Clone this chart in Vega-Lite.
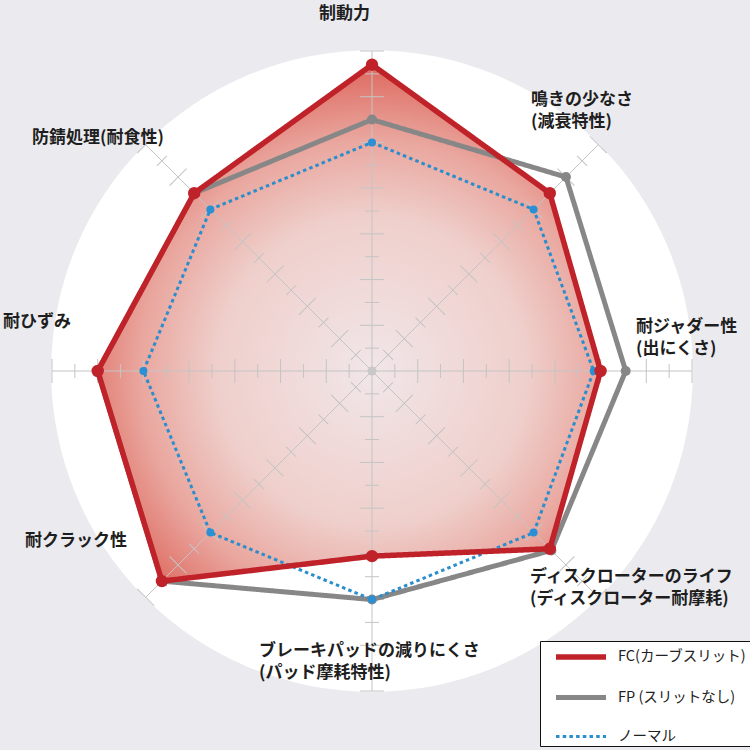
{
  "$schema": "https://vega.github.io/schema/vega-lite/v6.json",
  "width": 750,
  "height": 750,
  "autosize": {"type": "fit", "contains": "padding"},
  "padding": 0,
  "background": "#ebebef",
  "config": {
    "view": {"stroke": null},
    "font": "Noto Sans CJK JP",
    "legend": {
      "orient": "none",
      "legendX": 540,
      "legendY": 641,
      "padding": 3,
      "fillColor": "#ffffff",
      "strokeColor": "#111111",
      "symbolType": "M0,0L5,0",
      "symbolSize": 400,
      "labelFont": "Noto Sans CJK JP",
      "labelFontSize": 14.5,
      "labelColor": "#222222",
      "labelOffset": 49,
      "labelLimit": 300,
      "rowPadding": 17
    }
  },
  "datasets": {
    "scores": [
      {"series": "FP (スリットなし)", "axis": "制動力", "k": 0, "value": 5.5},
      {"series": "FP (スリットなし)", "axis": "鳴きの少なさ", "k": 1, "value": 6.0},
      {"series": "FP (スリットなし)", "axis": "耐ジャダー性", "k": 2, "value": 5.55},
      {"series": "FP (スリットなし)", "axis": "ディスクローターのライフ", "k": 3, "value": 5.55},
      {"series": "FP (スリットなし)", "axis": "ブレーキパッドの減りにくさ", "k": 4, "value": 5.0},
      {"series": "FP (スリットなし)", "axis": "耐クラック性", "k": 5, "value": 6.5},
      {"series": "FP (スリットなし)", "axis": "耐ひずみ", "k": 6, "value": 6.0},
      {"series": "FP (スリットなし)", "axis": "防錆処理", "k": 7, "value": 5.5},
      {"series": "ノーマル", "axis": "制動力", "k": 0, "value": 5.0},
      {"series": "ノーマル", "axis": "鳴きの少なさ", "k": 1, "value": 5.0},
      {"series": "ノーマル", "axis": "耐ジャダー性", "k": 2, "value": 4.85},
      {"series": "ノーマル", "axis": "ディスクローターのライフ", "k": 3, "value": 5.0},
      {"series": "ノーマル", "axis": "ブレーキパッドの減りにくさ", "k": 4, "value": 5.0},
      {"series": "ノーマル", "axis": "耐クラック性", "k": 5, "value": 5.0},
      {"series": "ノーマル", "axis": "耐ひずみ", "k": 6, "value": 5.0},
      {"series": "ノーマル", "axis": "防錆処理", "k": 7, "value": 5.0},
      {"series": "FC(カーブスリット)", "axis": "制動力", "k": 0, "value": 6.7},
      {"series": "FC(カーブスリット)", "axis": "鳴きの少なさ", "k": 1, "value": 5.5},
      {"series": "FC(カーブスリット)", "axis": "耐ジャダー性", "k": 2, "value": 5.0},
      {"series": "FC(カーブスリット)", "axis": "ディスクローターのライフ", "k": 3, "value": 5.5},
      {"series": "FC(カーブスリット)", "axis": "ブレーキパッドの減りにくさ", "k": 4, "value": 4.05},
      {"series": "FC(カーブスリット)", "axis": "耐クラック性", "k": 5, "value": 6.5},
      {"series": "FC(カーブスリット)", "axis": "耐ひずみ", "k": 6, "value": 6.0},
      {"series": "FC(カーブスリット)", "axis": "防錆処理", "k": 7, "value": 5.5}
    ],
    "axes": [
      {"axis": "制動力", "k": 0, "max": 7},
      {"axis": "鳴きの少なさ", "k": 1, "max": 7},
      {"axis": "耐ジャダー性", "k": 2, "max": 7},
      {"axis": "ディスクローターのライフ", "k": 3, "max": 7},
      {"axis": "ブレーキパッドの減りにくさ", "k": 4, "max": 7},
      {"axis": "耐クラック性", "k": 5, "max": 7},
      {"axis": "耐ひずみ", "k": 6, "max": 7},
      {"axis": "防錆処理", "k": 7, "max": 7}
    ],
    "majorTicks": [
      {"r": 1, "k": [0, 1, 2, 3, 4, 5, 6, 7]},
      {"r": 2, "k": [0, 1, 2, 3, 4, 5, 6, 7]},
      {"r": 3, "k": [0, 1, 2, 3, 4, 5, 6, 7]},
      {"r": 4, "k": [0, 1, 2, 3, 4, 5, 6, 7]},
      {"r": 5, "k": [0, 1, 2, 3, 4, 5, 6, 7]},
      {"r": 6, "k": [0, 1, 2, 3, 4, 5, 6, 7]},
      {"r": 7, "k": [0, 1, 2, 3, 4, 5, 6, 7]}
    ],
    "minorTicks": [
      {"r": 0.5, "k": [0, 1, 2, 3, 4, 5, 6, 7]},
      {"r": 1.5, "k": [0, 1, 2, 3, 4, 5, 6, 7]},
      {"r": 2.5, "k": [0, 1, 2, 3, 4, 5, 6, 7]},
      {"r": 3.5, "k": [0, 1, 2, 3, 4, 5, 6, 7]},
      {"r": 4.5, "k": [0, 1, 2, 3, 4, 5, 6, 7]},
      {"r": 5.5, "k": [0, 1, 2, 3, 4, 5, 6, 7]},
      {"r": 6.5, "k": [0, 1, 2, 3, 4, 5, 6, 7]}
    ]
  },
  "encoding": {
    "x": {"field": "x", "type": "quantitative", "scale": {"domain": [-8.1375, 8.2688], "nice": false, "zero": false}, "axis": null},
    "y": {"field": "y", "type": "quantitative", "scale": {"domain": [-8.2906, 8.1156], "nice": false, "zero": false}, "axis": null}
  },
  "layer": [
    {
      "data": {"values": [{"x": 0, "y": 0}]},
      "mark": {"type": "point", "shape": "circle", "filled": true, "fill": "#ffffff", "opacity": 1, "strokeWidth": 0, "size": 411700}
    },
    {
      "data": {"name": "scores"},
      "transform": [
        {"filter": "datum.series === 'FC(カーブスリット)'"},
        {"calculate": "datum.k * PI / 4", "as": "theta"},
        {"calculate": "datum.value * sin(datum.theta)", "as": "x"},
        {"calculate": "datum.value * cos(datum.theta)", "as": "y"}
      ],
      "mark": {
        "type": "line",
        "interpolate": "linear-closed",
        "strokeWidth": 0,
        "fill": {
          "gradient": "radial",
          "x1": 0.544, "y1": 0.593, "r1": 0,
          "x2": 0.544, "y2": 0.593, "r2": 0.6,
          "stops": [
            {"offset": 0, "color": "#f1e6e8"},
            {"offset": 0.5, "color": "#efcfcb"},
            {"offset": 0.75, "color": "#e9a69e"},
            {"offset": 1, "color": "#dd655b"}
          ]
        }
      },
      "encoding": {"order": {"field": "k", "type": "quantitative"}}
    },
    {
      "data": {"name": "axes"},
      "transform": [
        {"calculate": "datum.k * PI / 4", "as": "theta"},
        {"calculate": "0", "as": "x"},
        {"calculate": "0", "as": "y"},
        {"calculate": "datum.max * sin(datum.theta)", "as": "ex"},
        {"calculate": "datum.max * cos(datum.theta)", "as": "ey"}
      ],
      "mark": {"type": "rule", "color": "#c4c4c4", "strokeWidth": 1},
      "encoding": {
        "x2": {"field": "ex"},
        "y2": {"field": "ey"}
      }
    },
    {
      "data": {"name": "majorTicks"},
      "transform": [
        {"flatten": ["k"]},
        {"calculate": "datum.k * PI / 4", "as": "theta"},
        {"calculate": "datum.r * sin(datum.theta)", "as": "x"},
        {"calculate": "datum.r * cos(datum.theta)", "as": "y"},
        {"calculate": "datum.k * 45", "as": "deg"}
      ],
      "mark": {"type": "point", "shape": "M-1,0L1,0", "filled": false, "stroke": "#c4c4c4", "strokeWidth": 1, "opacity": 1, "size": 576},
      "encoding": {"angle": {"field": "deg", "type": "quantitative", "scale": null}}
    },
    {
      "data": {"name": "minorTicks"},
      "transform": [
        {"flatten": ["k"]},
        {"calculate": "datum.k * PI / 4", "as": "theta"},
        {"calculate": "datum.r * sin(datum.theta)", "as": "x"},
        {"calculate": "datum.r * cos(datum.theta)", "as": "y"},
        {"calculate": "datum.k * 45", "as": "deg"}
      ],
      "mark": {"type": "point", "shape": "M-1,0L1,0", "filled": false, "stroke": "#c4c4c4", "strokeWidth": 1, "opacity": 1, "size": 196},
      "encoding": {"angle": {"field": "deg", "type": "quantitative", "scale": null}}
    },
    {
      "data": {"values": [{"x": 0, "y": 0}]},
      "mark": {"type": "point", "shape": "circle", "filled": true, "color": "#c8c8c8", "opacity": 1, "size": 80}
    },
    {
      "data": {"name": "scores"},
      "transform": [
        {"calculate": "datum.k * PI / 4", "as": "theta"},
        {"calculate": "datum.value * sin(datum.theta)", "as": "x"},
        {"calculate": "datum.value * cos(datum.theta)", "as": "y"}
      ],
      "mark": {"type": "line", "interpolate": "linear-closed", "strokeJoin": "miter"},
      "encoding": {
        "order": {"field": "k", "type": "quantitative"},
        "color": {
          "field": "series", "type": "nominal", "title": null,
          "scale": {"domain": ["FC(カーブスリット)", "FP (スリットなし)", "ノーマル"], "range": ["#c0222a", "#878787", "#2a8dcc"]}
        },
        "strokeDash": {
          "field": "series", "type": "nominal", "title": null,
          "scale": {"domain": ["FC(カーブスリット)", "FP (スリットなし)", "ノーマル"], "range": [[1, 0], [1, 0], [3.5, 3.2]]}
        },
        "strokeWidth": {
          "field": "series", "type": "nominal", "title": null,
          "scale": {"type": "ordinal", "domain": ["FC(カーブスリット)", "FP (スリットなし)", "ノーマル"], "range": [5.5, 5, 3]}
        }
      }
    },
    {
      "data": {"name": "scores"},
      "transform": [
        {"filter": "datum.series === 'FP (スリットなし)'"},
        {"calculate": "datum.k * PI / 4", "as": "theta"},
        {"calculate": "datum.value * sin(datum.theta)", "as": "x"},
        {"calculate": "datum.value * cos(datum.theta)", "as": "y"}
      ],
      "mark": {"type": "point", "shape": "circle", "filled": true, "color": "#878787", "opacity": 1, "size": 100}
    },
    {
      "data": {"name": "scores"},
      "transform": [
        {"filter": "datum.series === 'ノーマル'"},
        {"calculate": "datum.k * PI / 4", "as": "theta"},
        {"calculate": "datum.value * sin(datum.theta)", "as": "x"},
        {"calculate": "datum.value * cos(datum.theta)", "as": "y"}
      ],
      "mark": {"type": "point", "shape": "circle", "filled": true, "color": "#2a8fd3", "opacity": 1, "size": 64}
    },
    {
      "data": {"name": "scores"},
      "transform": [
        {"filter": "datum.series === 'FC(カーブスリット)'"},
        {"calculate": "datum.k * PI / 4", "as": "theta"},
        {"calculate": "datum.value * sin(datum.theta)", "as": "x"},
        {"calculate": "datum.value * cos(datum.theta)", "as": "y"}
      ],
      "mark": {"type": "point", "shape": "circle", "filled": true, "color": "#c0222a", "opacity": 1, "size": 154}
    },
    {
      "data": {"values": [
        {"label": ["制動力"], "x": -1.159, "y": 7.98},
        {"label": ["鳴きの少なさ", "(減衰特性)"], "x": 3.478, "y": 6.103},
        {"label": ["耐ジャダー性", "(出にくさ)"], "x": 5.775, "y": 1.1375},
        {"label": ["ディスクローターのライフ", "(ディスクローター耐摩耗)"], "x": 3.456, "y": -4.331},
        {"label": ["ブレーキパッドの減りにくさ", "(パッド摩耗特性)"], "x": -2.472, "y": -5.95},
        {"label": ["耐クラック性"], "x": -7.591, "y": -3.544},
        {"label": ["耐ひずみ"], "x": -8.072, "y": 1.247},
        {"label": ["防錆処理(耐食性)"], "x": -7.438, "y": 5.272}
      ]},
      "mark": {"type": "text", "align": "left", "baseline": "top", "font": "Noto Sans CJK JP", "fontSize": 17, "fontWeight": "bold", "lineHeight": 22, "color": "#1e1e1e"},
      "encoding": {"text": {"field": "label"}}
    }
  ]
}
